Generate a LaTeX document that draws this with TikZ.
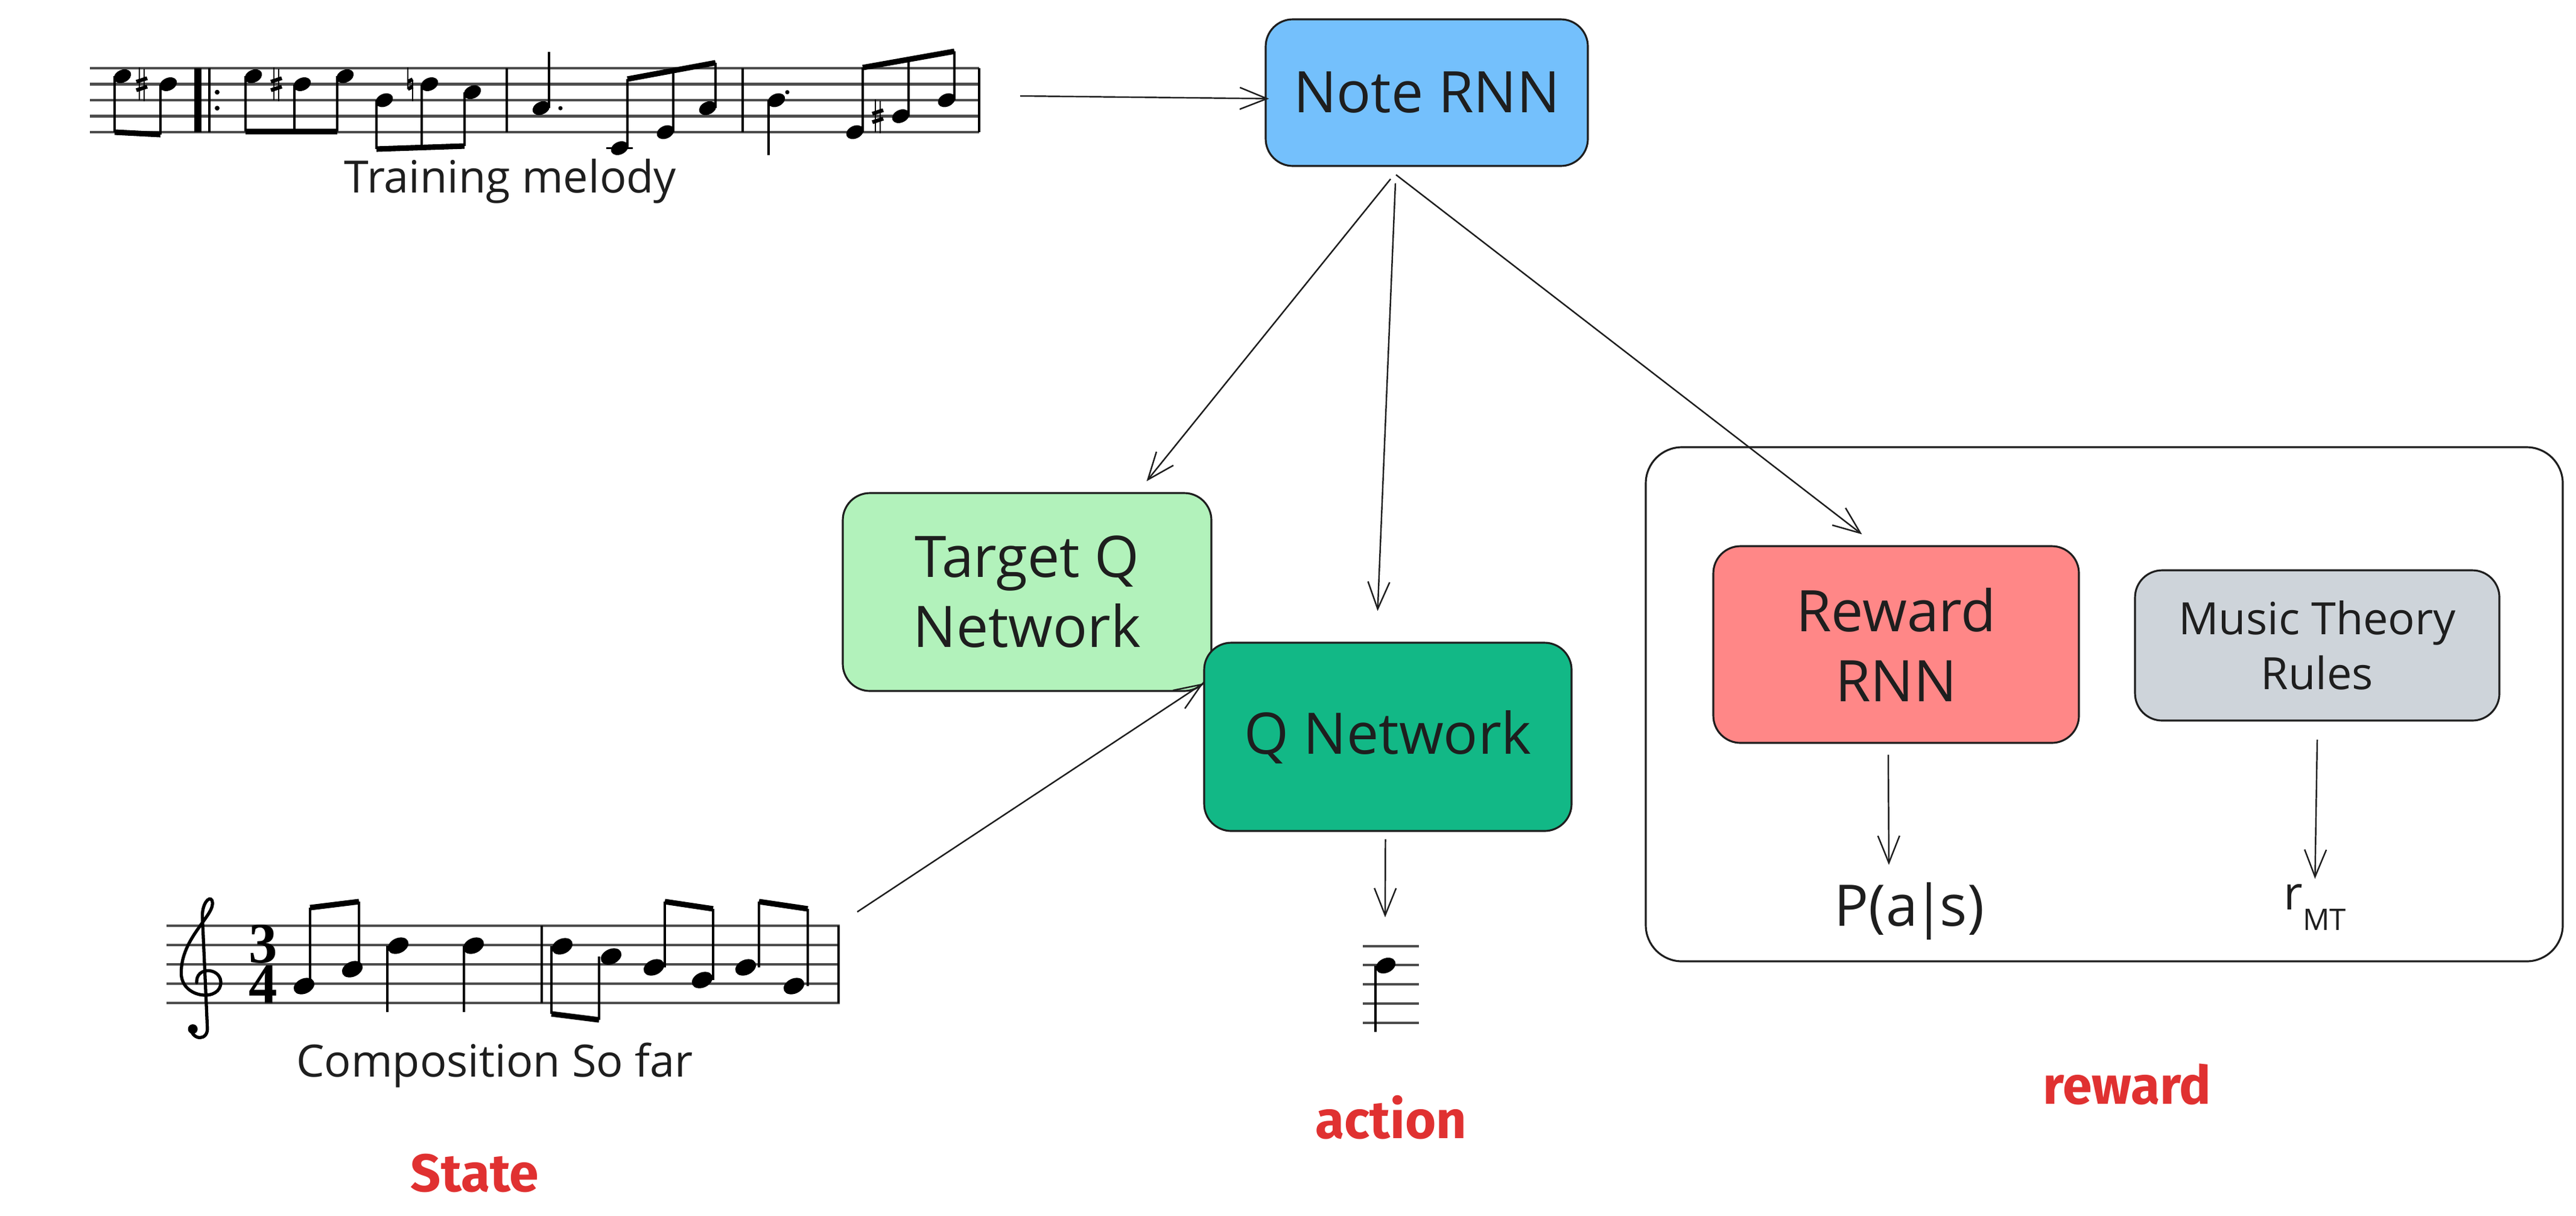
\documentclass[tikz,border=0pt]{standalone}
\usepackage{fontspec}
\setmainfont{Open Sans}
\newfontfamily\labelfont{Fira Sans}
\newfontfamily\scorefont{Liberation Serif}
\usepackage{tikz}
\usetikzlibrary{arrows.meta}

\definecolor{noteblue}{HTML}{74C0FC}
\definecolor{targetgreen}{HTML}{B2F2BB}
\definecolor{qgreen}{HTML}{12B886}
\definecolor{rewardred}{HTML}{FF8787}
\definecolor{rulesgray}{HTML}{CED4DA}
\definecolor{labelred}{HTML}{E03131}
\definecolor{inkblack}{HTML}{1E1E1E}

\tikzset{
    netbox/.style={draw=inkblack, line width=0.9pt, rounded corners=0.45cm, align=center, inner sep=0pt, text=inkblack, font=\fontsize{27}{33}\selectfont},
    labeltext/.style={text=labelred, font=\labelfont\bfseries\fontsize{25}{30}\selectfont},
    captiontext/.style={text=inkblack, font=\fontsize{21}{25}\selectfont},
    timesig/.style={inner sep=0pt, align=center, font=\scorefont\bfseries\fontsize{27}{18}\selectfont},
    staffline/.style={line width=1.2pt, black!70},
    notestem/.style={line width=0.9pt},
    notebeam/.style={line width=2.6pt},
    flowarrow/.style={->, line width=0.7pt, draw=inkblack}
}

\begin{document}
\begin{tikzpicture}[>={Straight Barb[length=4.5mm,width=3.6mm]}]
    \useasboundingbox (0, 0) rectangle (42.70, -20.14);

    \foreach \y in {1.13, 1.395, 1.66, 1.925, 2.19}
        \draw[staffline] (1.49, -\y) -- (16.23, -\y);
    \foreach \x in {8.40, 12.31, 16.23}
        \draw[notestem] (\x, -1.13) -- (\x, -2.19);
    \draw[line width=3.5pt] (3.28, -1.13) -- (3.28, -2.19);
    \draw[notestem] (3.47, -1.13) -- (3.47, -2.19);
    \fill (3.60, -1.5275) circle (0.04) (3.60, -1.7925) circle (0.04);
    \foreach \x/\y in {2.03/1.2625, 2.79/1.395, 4.20/1.2625, 5.01/1.395, 5.72/1.2625, 6.37/1.66, 7.12/1.395, 7.83/1.5275, 8.97/1.7925, 10.27/2.455, 11.03/2.19, 11.73/1.7925, 12.87/1.66, 14.17/2.19, 14.93/1.925, 15.69/1.66}
        \fill[rotate around={25:(\x, -\y)}] (\x, -\y) ellipse (0.15 and 0.105);
    \draw[notestem] (10.05, -2.455) -- (10.49, -2.455);
    \draw[notestem]
        (1.90, -1.2625) -- (1.90, -2.19) (2.66, -1.395) -- (2.66, -2.23)
        (4.07, -1.2625) -- (4.07, -2.18) (4.88, -1.395) -- (4.88, -2.18) (5.59, -1.2625) -- (5.59, -2.18)
        (6.24, -1.66) -- (6.24, -2.47) (6.99, -1.395) -- (6.99, -2.44) (7.70, -1.5275) -- (7.70, -2.42)
        (9.10, -1.7925) -- (9.10, -0.86)
        (10.40, -2.455) -- (10.40, -1.31) (11.16, -2.19) -- (11.16, -1.17) (11.86, -1.7925) -- (11.86, -1.04)
        (12.74, -1.66) -- (12.74, -2.57)
        (14.30, -2.19) -- (14.30, -1.12) (15.06, -1.925) -- (15.06, -0.985) (15.82, -1.66) -- (15.82, -0.85);
    \draw[notebeam]
        (1.90, -2.19) -- (2.66, -2.23)
        (4.07, -2.18) -- (5.59, -2.18)
        (6.24, -2.47) -- (7.70, -2.42)
        (10.40, -1.31) -- (11.86, -1.04)
        (14.30, -1.12) -- (15.82, -0.85);
    \fill (9.29, -1.7925) circle (0.035) (13.05, -1.5275) circle (0.035);
    \foreach \x/\y in {2.35/1.395, 4.58/1.395, 14.55/1.925} {
        \draw[line width=0.6pt] (\x-0.04, -\y+0.28) -- (\x-0.04, -\y-0.26) (\x+0.04, -\y+0.26) -- (\x+0.04, -\y-0.28);
        \draw[line width=1.8pt] (\x-0.09, -\y+0.04) -- (\x+0.09, -\y+0.10) (\x-0.09, -\y-0.10) -- (\x+0.09, -\y-0.04);
    }
    \draw[line width=0.6pt] (6.76, -1.115) -- (6.76, -1.475) (6.84, -1.315) -- (6.84, -1.675);
    \draw[line width=1.8pt] (6.76, -1.355) -- (6.84, -1.315) (6.76, -1.475) -- (6.84, -1.435);
    \node[captiontext] (melodyText) at (8.46, -3.00) {Training melody};
    \coordinate (melodyEnd) at (16.91, -1.59);

    \foreach \y in {15.34, 15.66, 15.98, 16.30, 16.62}
        \draw[staffline] (2.76, -\y) -- (13.92, -\y);
    \foreach \x in {8.98, 13.90}
        \draw[notestem] (\x, -15.34) -- (\x, -16.62);
    \begin{scope}[shift={(3.34cm, -16.30cm)}, x=0.32cm, y=0.32cm]
        \draw[line width=1.5pt, line cap=round]
            (-0.55, -2.3) .. controls (-0.5, -2.95) and (0.4, -3.0) .. (0.3, -2.2)
            -- (0.05, 3.4)
            .. controls (0.0, 4.1) and (0.4, 4.6) .. (0.55, 4.3)
            .. controls (0.8, 3.6) and (-1.1, 2.4) .. (-1.05, 0.5)
            .. controls (-1.0, -0.8) and (1.05, -0.95) .. (1.0, 0.1)
            .. controls (0.95, 0.85) and (-0.3, 0.9) .. (-0.25, 0.05);
        \fill (-0.45, -2.35) circle (0.25);
    \end{scope}
    \node[timesig] (timeSig) at (4.36, -15.98) {3\\4};
    \foreach \x/\y in {5.04/16.34, 5.84/16.06, 6.60/15.67, 7.85/15.67, 9.32/15.68, 10.13/15.85, 10.84/16.03, 11.64/16.24, 12.36/16.03, 13.16/16.34}
        \fill[rotate around={25:(\x, -\y)}] (\x, -\y) ellipse (0.18 and 0.125);
    \draw[notestem]
        (5.14, -16.34) -- (5.14, -15.04) (5.95, -16.06) -- (5.95, -14.94)
        (6.42, -15.67) -- (6.42, -16.77) (7.69, -15.67) -- (7.69, -16.77)
        (9.14, -15.68) -- (9.14, -16.80) (9.93, -15.85) -- (9.93, -16.90)
        (11.02, -16.03) -- (11.02, -14.94) (11.82, -16.24) -- (11.82, -15.06)
        (12.58, -16.03) -- (12.58, -14.94) (13.39, -16.34) -- (13.39, -15.06);
    \draw[notebeam]
        (5.14, -15.04) -- (5.95, -14.94)
        (9.14, -16.80) -- (9.93, -16.90)
        (11.02, -14.94) -- (11.82, -15.06)
        (12.58, -14.94) -- (13.39, -15.06);
    \node[captiontext] (compText) at (8.20, -17.65) {Composition So far};
    \coordinate (compEnd) at (14.21, -15.11);

    \foreach \y in {15.68, 15.99, 16.31, 16.63, 16.95}
        \draw[staffline] (22.59, -\y) -- (23.52, -\y);
    \fill[rotate around={25:(22.97, -16.0)}] (22.97, -16.0) ellipse (0.17 and 0.12);
    \draw[notestem] (22.80, -16.0) -- (22.80, -17.10);
    \coordinate (actionTop) at (22.96, -15.20);

    \node[netbox, fill=noteblue, minimum width=5.34cm, minimum height=2.43cm] (noteRNN) at (23.65, -1.535) {Note RNN};
    \node[netbox, fill=targetgreen, minimum width=6.11cm, minimum height=3.28cm] (targetQ) at (17.025, -9.81) {Target Q\\Network};
    \node[netbox, fill=qgreen, minimum width=6.09cm, minimum height=3.12cm] (qNet) at (23.005, -12.21) {Q Network};

    \draw[line width=0.9pt, draw=inkblack, rounded corners=0.6cm] (27.28, -7.41) rectangle (42.48, -15.93);
    \node[netbox, fill=rewardred, minimum width=6.06cm, minimum height=3.26cm] (rewardRNN) at (31.43, -10.68) {Reward\\RNN};
    \node[netbox, fill=rulesgray, minimum width=6.04cm, minimum height=2.49cm, font=\fontsize{21}{26}\selectfont] (rules) at (38.41, -10.695) {Music Theory\\Rules};
    \node[anchor=base, inner sep=0pt, text=inkblack, font=\fontsize{27}{33}\selectfont] (pAS) at (31.65, -15.34) {P(a\kern-0.08em|\kern-0.08em s)};
    \node[anchor=base west, inner sep=0pt, text=inkblack, font=\fontsize{22}{26}\selectfont] (rMT) at (37.85, -15.07) {r\raisebox{-0.34cm}{\fontsize{14}{16}\selectfont MT}};

    \node[labeltext] (stateLabel) at (7.87, -19.44) {State};
    \node[labeltext] (actionLabel) at (23.06, -18.52) {action};
    \node[labeltext] (rewardLabel) at (35.26, -17.97) {reward};

    \draw
    (melodyEnd) edge[flowarrow] ([xshift=0.07cm, yshift=-0.1cm]noteRNN.west)
    ([xshift=-0.6cm, yshift=-0.2cm]noteRNN.south) edge[flowarrow] ([xshift=-1.09cm, yshift=0.18cm]targetQ.north east)
    ([xshift=-0.52cm, yshift=-0.27cm]noteRNN.south) edge[flowarrow] ([xshift=-0.17cm, yshift=0.51cm]qNet.north)
    ([xshift=-0.51cm, yshift=-0.13cm]noteRNN.south) edge[flowarrow] ([xshift=2.48cm, yshift=0.18cm]rewardRNN.north west)
    (compEnd) edge[flowarrow] ([yshift=-0.69cm]qNet.north west)
    ([xshift=-0.04cm, yshift=-0.12cm]qNet.south) edge[flowarrow] (actionTop)
    ([xshift=-0.13cm, yshift=-0.18cm]rewardRNN.south) edge[flowarrow] ([xshift=-0.34cm, yshift=0.28cm]pAS.north)
    ([yshift=-0.3cm]rules.south) edge[flowarrow] ([yshift=0.08cm]rMT.north);
\end{tikzpicture}
\end{document}
